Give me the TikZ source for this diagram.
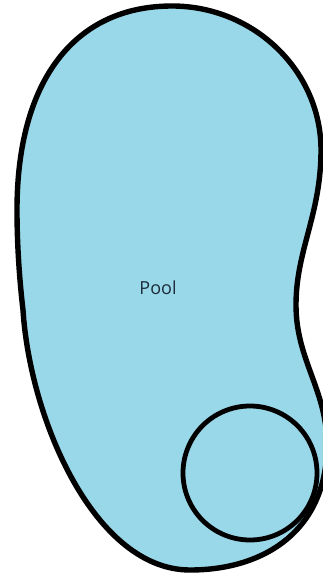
\documentclass[tikz,border=0pt]{standalone}
\usepackage{fontspec}
\setmainfont{Open Sans}
\usepackage{tikz}

\definecolor{water}{RGB}{153,216,233}
\definecolor{labeltext}{RGB}{30,44,58}

\begin{document}
\begin{tikzpicture}[
				x=1pt, y=-1pt,
				poolline/.style={draw=black, line width=5.4pt, fill=water, line join=round},
				spa/.style={circle, draw=black, line width=4.8pt, fill=water, minimum size=134pt, inner sep=0pt},
				label/.style={font=\fontsize{18}{21}\selectfont, text=labeltext}
				]
				\useasboundingbox (0,0) rectangle (323,579);
				
				% outline of the pool
				\draw[poolline] (172,6)
					.. controls (254,6) and (321,71) .. (321,150)
					.. controls (321,215) and (296,250) .. (296,305)
					.. controls (296,360) and (327,390) .. (327,445)
					.. controls (327,530) and (265,570) .. (190,570)
					.. controls (95,570) and (30,420) .. (23,310)
					.. controls (19.5,280) and (17,245) .. (17,210)
					.. controls (17,80) and (75,6) .. cycle;
				
				% round spa in the corner
				\node[spa] (spa) at (250,473) {};
				
				% label
				\node[label] (pool) at (158,288) {Pool};
				
			\end{tikzpicture}
\end{document}
